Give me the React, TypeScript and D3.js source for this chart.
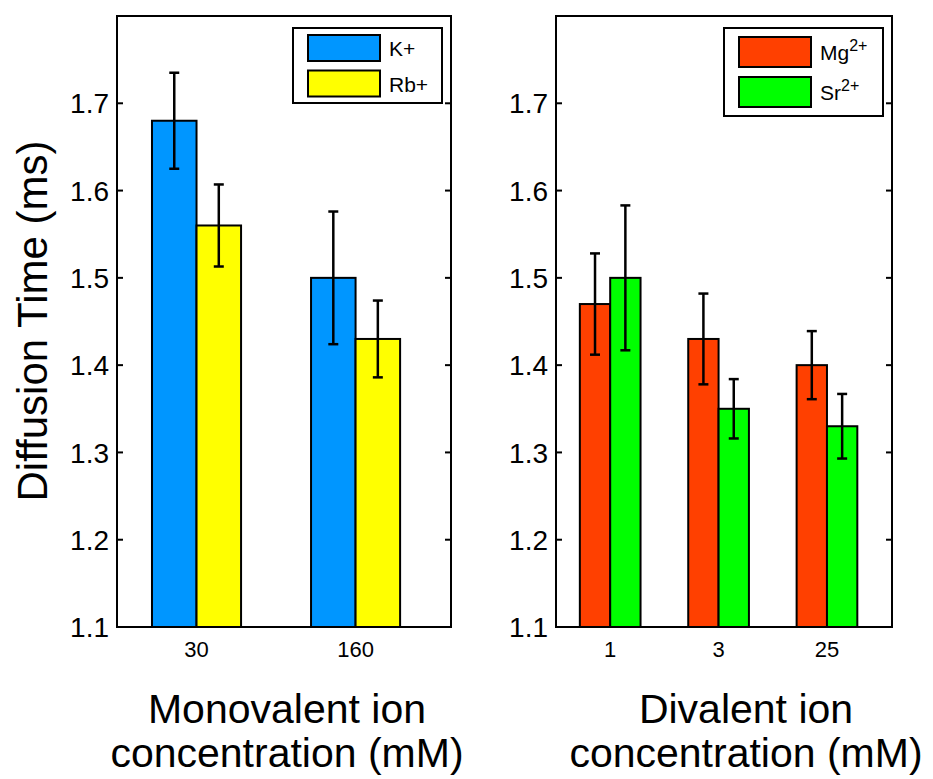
import React from 'react';
import * as d3 from 'd3';

const monoCategories = ['30', '160'];
const kValues = [1.68, 1.5];
const kErrors = [0.055, 0.076];
const rbValues = [1.56, 1.43];
const rbErrors = [0.047, 0.044];

const diCategories = ['1', '3', '25'];
const mgValues = [1.47, 1.43, 1.4];
const mgErrors = [0.058, 0.052, 0.039];
const srValues = [1.5, 1.35, 1.33];
const srErrors = [0.083, 0.034, 0.037];

const yTicks = [1.1, 1.2, 1.3, 1.4, 1.5, 1.6, 1.7];
const yDomain = [1.1, 1.8];

const FONT = '"Liberation Sans", Arial, Helvetica, sans-serif';

type Series = { name: string; sup?: string; color: string; values: number[]; errors: number[] };

type Legend = { x0: number; x1: number; y0: number; h: number; off: number; rowH: number; patchH: number };

type PanelProps = {
  left: number;
  right: number;
  categories: string[];
  series: Series[];
  legend: Legend;
  labelLines: string[];
  labelX: number;
};

const top = 16;
const bottom = 627;
const barW = 0.28;

const Panel = ({ left, right, categories, series, legend, labelLines, labelX }: PanelProps) => {
  const n = categories.length;
  const x = d3.scaleLinear().domain([0.5, n + 0.6]).range([left, right]);
  const y = d3.scaleLinear().domain(yDomain).range([bottom, top]);
  const tickLen = 6;

  return (
    <g>
      {series.map((s, si) =>
        s.values.map((v, i) => {
          const x0 = x(i + 1 - barW + si * barW);
          const x1 = x(i + 1 + si * barW);
          return (
            <rect key={`b${si}-${i}`} x={x0} y={y(v)} width={x1 - x0} height={y(yDomain[0]) - y(v)}
              fill={s.color} stroke="#000" strokeWidth={2} />
          );
        })
      )}
      {series.map((s, si) =>
        s.values.map((v, i) => {
          const cx = x(i + 1 - barW / 2 + si * barW);
          const hi = y(v + s.errors[i]);
          const lo = y(v - s.errors[i]);
          return (
            <g key={`e${si}-${i}`} stroke="#000" strokeWidth={2.5}>
              <line x1={cx} x2={cx} y1={hi} y2={lo} />
              <line x1={cx - 5} x2={cx + 5} y1={hi} y2={hi} />
              <line x1={cx - 5} x2={cx + 5} y1={lo} y2={lo} />
            </g>
          );
        })
      )}
      <rect x={left} y={top} width={right - left} height={bottom - top} fill="none" stroke="#000" strokeWidth={2} />
      {yTicks.map(t => (
        <g key={t}>
          <line x1={left} x2={left + tickLen} y1={y(t)} y2={y(t)} stroke="#000" strokeWidth={2} />
          <line x1={right - tickLen} x2={right} y1={y(t)} y2={y(t)} stroke="#000" strokeWidth={2} />
          <text x={left - 8} y={y(t)} dy="0.36em" textAnchor="end" fontSize={28} fontFamily={FONT}>
            {t.toFixed(1)}
          </text>
        </g>
      ))}
      {categories.map((c, i) => (
        <text key={c} x={x(i + 1)} y={657} textAnchor="middle" fontSize={22} fontFamily={FONT}>{c}</text>
      ))}
      <rect x={legend.x0} y={legend.y0} width={legend.x1 - legend.x0} height={legend.h}
        fill="#fff" stroke="#000" strokeWidth={2} />
      {series.map((s, si) => {
        const ry = legend.y0 + legend.off + si * legend.rowH;
        return (
          <g key={s.name}>
            <rect x={legend.x0 + 15} y={ry} width={72} height={legend.patchH}
              fill={s.color} stroke="#000" strokeWidth={2} />
            <text x={legend.x0 + 96} y={ry + legend.patchH / 2} dy="0.4em" fontSize={21} fontFamily={FONT}>
              {s.name}
              {s.sup && <tspan dy="-0.6em" fontSize={16}>{s.sup}</tspan>}
            </text>
          </g>
        );
      })}
      {labelLines.map((l, li) => (
        <text key={l} x={labelX} y={723 + li * 44} textAnchor="middle" fontSize={41} fontFamily={FONT}>{l}</text>
      ))}
    </g>
  );
};

export default function App() {
  const monoSeries: Series[] = [
    { name: 'K+', color: '#0096ff', values: kValues, errors: kErrors },
    { name: 'Rb+', color: '#ffff00', values: rbValues, errors: rbErrors },
  ];
  const diSeries: Series[] = [
    { name: 'Mg', sup: '2+', color: '#ff4000', values: mgValues, errors: mgErrors },
    { name: 'Sr', sup: '2+', color: '#00ff00', values: srValues, errors: srErrors },
  ];
  return (
    <svg width={933} height={779} style={{ position: 'absolute', left: 0, top: 0, background: '#fff' }}>
      <rect width={933} height={779} fill="#fff" />
      <Panel left={117} right={451} categories={monoCategories} series={monoSeries}
        legend={{ x0: 293, x1: 442, y0: 28, h: 75, off: 7, rowH: 35.5, patchH: 26 }}
        labelLines={['Monovalent ion', 'concentration (mM)']} labelX={287} />
      <Panel left={556} right={892} categories={diCategories} series={diSeries}
        legend={{ x0: 724, x1: 883, y0: 28, h: 88, off: 9, rowH: 40, patchH: 30 }}
        labelLines={['Divalent ion', 'concentration (mM)']} labelX={746} />
      <text transform="translate(47,321) rotate(-90)" textAnchor="middle" fontSize={42} fontFamily={FONT}>
        Diffusion Time (ms)
      </text>
    </svg>
  );
}
